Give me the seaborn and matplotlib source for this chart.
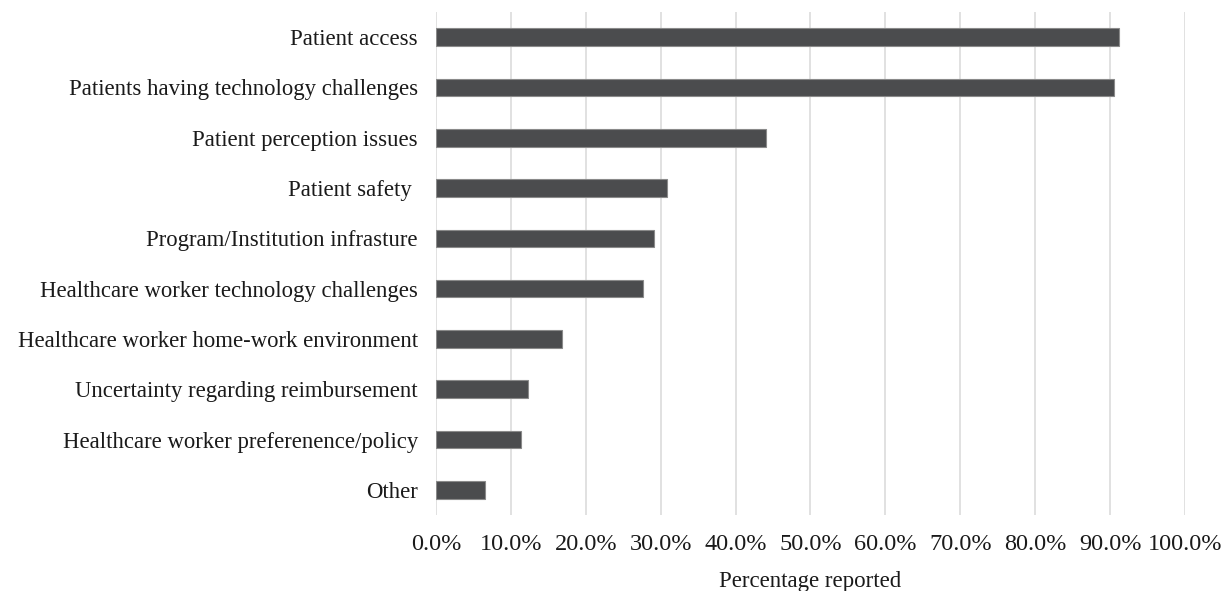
import matplotlib
matplotlib.use("Agg")
import matplotlib.pyplot as plt
import seaborn as sns
import pandas as pd
from matplotlib.ticker import FuncFormatter, MultipleLocator

barriers = [
    "Patient access",
    "Patients having technology challenges",
    "Patient perception issues",
    "Patient safety ",
    "Program/Institution infrasture",
    "Healthcare worker technology challenges",
    "Healthcare worker home-work environment",
    "Uncertainty regarding reimbursement",
    "Healthcare worker preferenence/policy",
    "Other",
]
percent_reported = [91.2, 90.5, 44.1, 30.9, 29.1, 27.6, 16.8, 12.3, 11.3, 6.5]

df = pd.DataFrame({"barrier": barriers, "pct": percent_reported})

sns.set_theme(style="white")
plt.rcParams["font.family"] = ["Liberation Serif", "DejaVu Serif"]

fig = plt.figure(figsize=(12.31, 5.91), dpi=100)
ax = fig.add_axes([0.3542, 0.1286, 0.9626 - 0.3542, 0.9797 - 0.1286])

sns.barplot(data=df, x="pct", y="barrier", orient="h", color="#4b4c4e",
            saturation=1, width=0.35, edgecolor="#8a8a8a", linewidth=0.8,
            ax=ax, zorder=3)

ax.set_xlim(0, 100)
ax.set_ylim(len(barriers) - 0.5, -0.5)
ax.xaxis.set_major_locator(MultipleLocator(10))
ax.xaxis.set_major_formatter(FuncFormatter(lambda v, _: f"{v:.1f}%"))
ax.grid(axis="x", color="#dcdcdc", linewidth=1.2, zorder=0)
ax.grid(axis="y", visible=False)
for side in ("top", "right", "bottom", "left"):
    ax.spines[side].set_visible(False)

ax.tick_params(axis="both", length=0, colors="#1a1a1a")
ax.tick_params(axis="x", pad=14, labelsize=17.5)
ax.tick_params(axis="y", pad=13, labelsize=16.4)
ax.set_ylabel("")
ax.set_xlabel("Percentage reported", fontsize=16.5, color="#1a1a1a", labelpad=11)

fig.savefig("out.png", dpi=100)
